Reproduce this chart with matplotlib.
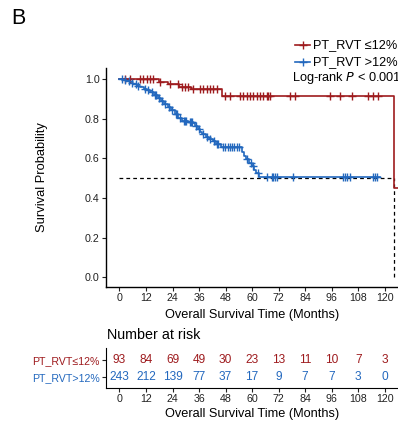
import numpy as np
import matplotlib
matplotlib.use("Agg")
import matplotlib.pyplot as plt

plt.rcParams['font.family'] = ['Liberation Sans', 'DejaVu Sans']

# ---------------- data ----------------
red_times = [0, 17.7, 21.9, 27, 32.3, 46.4, 124.2, 126]
red_surv = [1.0, 0.985, 0.972, 0.96, 0.947, 0.912, 0.45, 0.45]
red_censor = [2.5, 4.8, 9.2, 10.6, 12.5, 13.8, 15.2, 18.3, 22.9, 26.5, 28.3, 29.6, 31,
              33.3, 36.4, 37.8, 39.6, 41, 42.3, 44.1, 47.7, 50, 54.5, 55.9, 57.7,
              59.1, 60.4, 62.2, 63.6, 65, 66.7, 67.2, 68.1, 77.1, 79.4, 95.2, 99.7,
              105.2, 112.5, 114.7, 117]

blue_times = [0, 1.6, 3.1, 4.7, 6.2, 7.8, 9.4, 10.9, 12.5, 14, 15.6, 17.2, 18.7, 20.3,
              21.9, 23.4, 25, 26.5, 28.1, 31.2, 33.3, 34.3, 35.4, 36.4, 37.5, 39,
              40.6, 42.1, 43.7, 45.8, 55.2, 56.2, 57.2, 58.8, 59.8, 60.9, 61.9, 62.9,
              117.9]
blue_surv = [1.0, 0.995, 0.99, 0.98, 0.975, 0.965, 0.958, 0.95, 0.942, 0.932, 0.92,
             0.905, 0.89, 0.875, 0.86, 0.845, 0.825, 0.805, 0.79, 0.785, 0.78, 0.765,
             0.75, 0.735, 0.72, 0.705, 0.695, 0.685, 0.67, 0.655, 0.63, 0.61, 0.595,
             0.575, 0.56, 0.54, 0.525, 0.505, 0.505]
blue_censor = [1, 2.6, 4.2, 5.7, 7.3, 8.3, 11.4, 13, 14.6, 16.1, 16.6, 17.7, 19.2,
               20.8, 22.4, 23.9, 25.5, 26, 27.6, 29.1, 29.6, 30.2, 31.7, 32.2, 32.8,
               34.8, 35.9, 38, 39.5, 41.1, 42.6, 44.2, 44.7, 46.8, 47.8, 48.9, 49.9,
               51, 52, 53, 54.1, 57.7, 59.3, 60.3, 62.7, 66.7, 69, 69.5, 70.4, 71.3,
               78.5, 101.1, 102, 103, 104.3, 114.7, 115.6, 116.5]

risk_times = [0, 12, 24, 36, 48, 60, 72, 84, 96, 108, 120]
risk_red = [93, 84, 69, 49, 30, 23, 13, 11, 10, 7, 3]
risk_blue = [243, 212, 139, 77, 37, 17, 9, 7, 7, 3, 0]

group_labels = ["PT_RVT \u226412%", "PT_RVT >12%"]
risk_labels = ["PT_RVT\u226412%", "PT_RVT>12%"]
median_value = 0.5
median_end = 124.2

RED = "#9E1B1E"
BLUE = "#2368BE"

W, H = 398, 421
fig = plt.figure(figsize=(W / 100, H / 100), dpi=100)


def fx(px):
    return px / W


def fy(py):
    return 1 - py / H


xlim = (-6.1, 126.0)
LEFT, RIGHT = 106, 398
AXW = (RIGHT - LEFT) / W

# ---------------- main KM axes ----------------
ax = fig.add_axes([fx(LEFT), fy(286.5), AXW, (286.5 - 68) / H])
ax.set_xlim(*xlim)
ax.set_ylim(-0.046, 1.055)


def step_val(times, surv, t):
    i = np.searchsorted(times, t, side='right') - 1
    return np.asarray(surv)[i]


ax.step(red_times, red_surv, where='post', color=RED, lw=1.2, zorder=3)
ax.step(blue_times, blue_surv, where='post', color=BLUE, lw=1.2, zorder=3)
ax.plot(red_censor, step_val(red_times, red_surv, red_censor), ls='none',
        marker='+', ms=5.5, mew=1.0, color=RED, zorder=4)
ax.plot(blue_censor, step_val(blue_times, blue_surv, blue_censor), ls='none',
        marker='+', ms=5.5, mew=1.0, color=BLUE, zorder=4)

ax.plot([0, median_end], [median_value, median_value], ls=(0, (3, 2.5)),
        color='black', lw=0.9, zorder=2)
ax.plot([median_end, median_end], [0, median_value], ls=(0, (3, 2.5)),
        color='black', lw=0.9, zorder=2)

for s in ['top', 'right']:
    ax.spines[s].set_visible(False)
for s in ['left', 'bottom']:
    ax.spines[s].set_linewidth(1.0)
ax.set_xticks(risk_times)
ax.set_yticks([0, 0.2, 0.4, 0.6, 0.8, 1.0])
ax.set_yticklabels(["0.0", "0.2", "0.4", "0.6", "0.8", "1.0"])
ax.tick_params(labelsize=7.7, length=3, width=0.8, pad=1.5, colors='#222222',
               labelcolor='#222222')
ax.set_xlabel("Overall Survival Time (Months)", fontsize=9.2, labelpad=4.5)
ax.set_ylabel("Survival Probability", fontsize=9.3)
ax.yaxis.set_label_coords((48 - LEFT) / (RIGHT - LEFT), 0.5)

# legend (manual)
for i, (lab, col) in enumerate(zip(group_labels, [RED, BLUE])):
    yy = 45 + i * 17
    fig.add_artist(plt.Line2D([fx(295), fx(310)], [fy(yy), fy(yy)], color=col,
                              lw=1.2))
    fig.add_artist(plt.Line2D([fx(302.5)], [fy(yy)], color=col, marker='+',
                              ms=5.5, mew=1.0))
    fig.text(fx(313), fy(yy), lab, fontsize=9.2, va='center', ha='left')
fig.text(fx(292), fy(78), "Log-rank $\\it{P}$ < 0.001", fontsize=9.2,
         va='center', ha='left')

fig.text(fx(11), fy(19), "B", fontsize=15.5, va='center', ha='left')

# ---------------- risk table ----------------
ax2 = fig.add_axes([fx(LEFT), fy(388), AXW, 40 / H])
ax2.set_xlim(*xlim)
ax2.set_ylim(0, 1)
row_y = [0.7, 0.275]
for yv, vals, col in zip(row_y, [risk_red, risk_blue], [RED, BLUE]):
    for t, v in zip(risk_times, vals):
        ax2.text(t, yv, str(v), color=col, fontsize=8.6, ha='center',
                 va='center')
ax2.set_yticks(row_y)
ax2.set_yticklabels(risk_labels, fontsize=7.7)
ax2.set_xticks(risk_times)
ax2.tick_params(axis='x', labelsize=7.7, length=3, width=0.8, pad=1.5,
                colors='#222222', labelcolor='#222222')
ax2.tick_params(axis='y', length=3, width=0.8, pad=1.5, colors='#222222')
for lbl, col in zip(ax2.get_yticklabels(), [RED, BLUE]):
    lbl.set_color(col)
for s in ['top', 'right']:
    ax2.spines[s].set_visible(False)
ax2.set_xlabel("Overall Survival Time (Months)", fontsize=9.2, labelpad=2.5)
fig.text(fx(107), fy(335), "Number at risk", fontsize=10.3, va='center',
         ha='left')

fig.savefig("out.png", dpi=100)
